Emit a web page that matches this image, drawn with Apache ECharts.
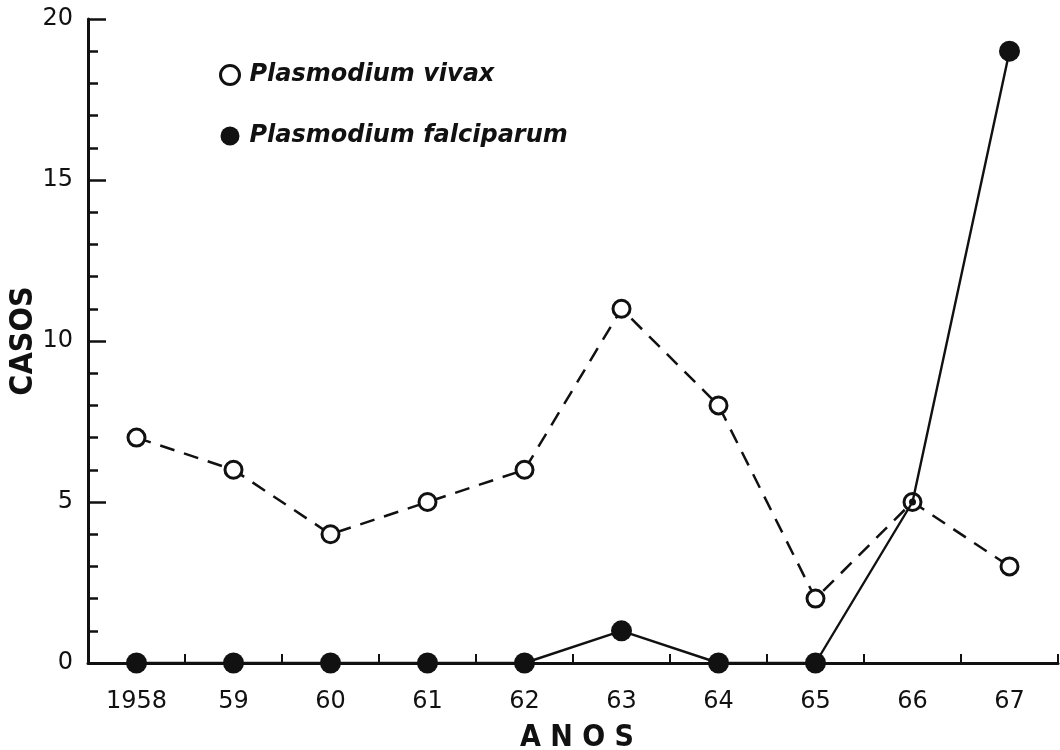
<!DOCTYPE html>
<html>
<head>
<meta charset="utf-8">
<script src="https://cdn.jsdelivr.net/npm/echarts@6/dist/echarts.min.js"></script>
<style>
html,body{margin:0;padding:0;background:#fff;}
#chart{width:1060px;height:750px;}
</style>
</head>
<body>
<div id="chart"></div>
<script>
const categories = ['1958','59','60','61','62','63','64','65','66','67'];
const vivax = [7, 6, 4, 5, 6, 11, 8, 2, 5, 3];
const falciparum = [0, 0, 0, 0, 0, 1, 0, 0, 5, 19];
const yTicks = [0, 5, 10, 15, 20];

const INK = '#111';
const FONT = 'DejaVu Sans';
const chart = echarts.init(document.getElementById('chart'));
chart.setOption({
  backgroundColor: '#fff',
  animation: false,
  grid: {left: 88, right: 2, top: 19, bottom: 87, containLabel: false, outerBoundsMode: 'none'},
  legend: {
    orient: 'vertical', left: 214, top: 58,
    itemWidth: 19, itemHeight: 19, itemGap: 37,
    textStyle: {fontFamily: FONT, fontStyle: 'italic', fontWeight: 'bold', fontSize: 24, color: INK, padding: [0,0,0,5]},
    data: [
      {name: 'Plasmodium vivax', icon: 'circle', itemStyle: {color: '#fff', borderColor: INK, borderWidth: 3}},
      {name: 'Plasmodium falciparum', icon: 'circle', itemStyle: {color: INK, borderWidth: 0}}
    ]
  },
  xAxis: {
    type: 'category', data: categories, boundaryGap: true,
    name: 'A N O S', nameLocation: 'middle', nameGap: 60,
    nameTextStyle: {fontFamily: 'DejaVu Sans Condensed', fontWeight: 'bold', fontSize: 30, color: INK, padding: [0,0,0,8]},
    axisLine: {lineStyle: {color: INK, width: 3}},
    axisTick: {show: true, inside: true, length: 9, lineStyle: {color: INK, width: 2}},
    axisLabel: {fontFamily: FONT, fontSize: 24, color: INK, margin: 27},
    splitLine: {show: false}
  },
  yAxis: {
    type: 'value', min: yTicks[0], max: yTicks[yTicks.length-1], interval: 5,
    name: 'CASOS', nameLocation: 'middle', nameGap: 48, nameRotate: 90, nameMoveOverlap: false,
    nameTextStyle: {fontFamily: 'DejaVu Sans Condensed', fontWeight: 'bold', fontSize: 32, color: INK},
    axisLine: {show: true, lineStyle: {color: INK, width: 3}},
    axisTick: {show: true, inside: true, length: 18, lineStyle: {color: INK, width: 2.5}},
    minorTick: {show: true, splitNumber: 5, length: 10, lineStyle: {color: INK, width: 2.5}},
    axisLabel: {fontFamily: FONT, fontSize: 24, color: INK, margin: 15},
    splitLine: {show: false}, minorSplitLine: {show: false}
  },
  series: [
    {
      name: 'Plasmodium vivax', type: 'line', data: vivax,
      symbol: 'circle', symbolSize: 17, z: 3,
      lineStyle: {color: INK, width: 2.5, type: [15, 10]},
      itemStyle: {color: '#fff', borderColor: INK, borderWidth: 3}
    },
    {
      name: 'Plasmodium falciparum', type: 'line', data: falciparum,
      symbol: 'circle', z: 4,
      symbolSize: function (v, p) { return p.dataIndex === 8 ? 7 : 21; },
      lineStyle: {color: INK, width: 2.4},
      itemStyle: {color: INK, borderWidth: 0}
    }
  ]
});
</script>
</body>
</html>
